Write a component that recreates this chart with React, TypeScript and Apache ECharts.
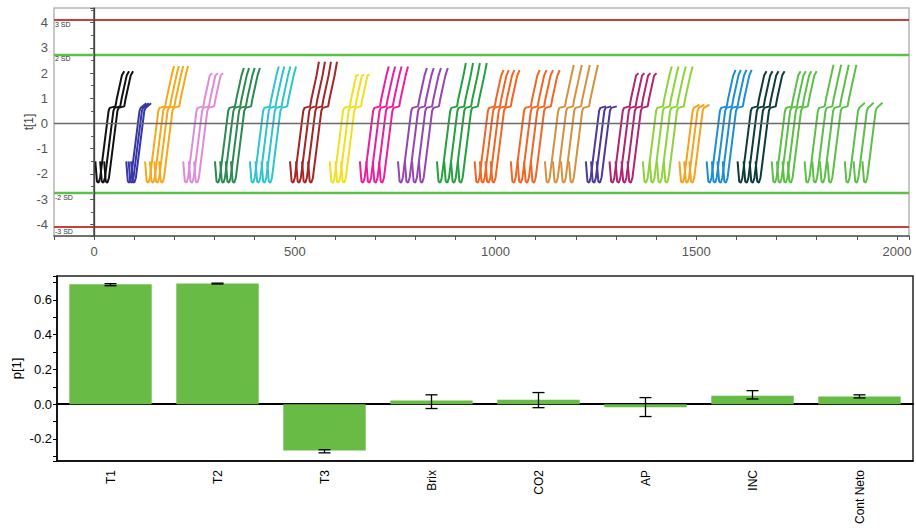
import React, { useEffect, useRef } from 'react';
import * as echarts from 'echarts';

// ---------- Top chart: batch trajectories of t[1] ----------
// Colour of each batch (left to right)
const batchColors = [
  '#111111', '#3636a6', '#f4a81d', '#e08bd6', '#2a8a52', '#2fc3cd', '#a42626', '#efe020',
  '#ec1f9b', '#9446b4', '#25a03e', '#f26522', '#f26522', '#d4913f', '#4a3a9e', '#b0256f',
  '#8dd33b', '#f5a221', '#1f8ed0', '#0f3a3a', '#5cbf47', '#5cbf47', '#5cbf47',
];
// Start (observation number) of each replicate trace in every batch
const batchTraceStarts = [
  [3, 15, 25], [80, 86, 92], [127, 139, 150, 162], [222, 236, 249],
  [301, 314, 328, 341], [388, 402, 417, 431], [488, 503, 518, 533], [587, 601, 615],
  [662, 678, 694, 710], [757, 774, 792, 809], [854, 872, 889, 906], [948, 961, 975, 988],
  [1038, 1055, 1071, 1088], [1123, 1143, 1163, 1183], [1225, 1238, 1252], [1284, 1299, 1314, 1329],
  [1367, 1384, 1402, 1419], [1458, 1470, 1483], [1526, 1539, 1553, 1566], [1603, 1618, 1633, 1648],
  [1688, 1701, 1715, 1728], [1770, 1789, 1808, 1827], [1870, 1892, 1914],
];
// Highest t[1] reached by each batch
const batchHigh = [
  2.07, 0.8, 2.28, 2.0, 2.2, 2.26, 2.45, 1.94, 2.26, 2.2, 2.4, 2.12,
  2.12, 2.32, 0.68, 2.0, 2.26, 0.75, 2.13, 2.07, 2.07, 2.33, 0.82,
];
const fullShapeDx = [0, 4, 8, 12, 33, 36, 50, 53, 66, 72];
const fullShapeY = [-1.5, -2.3, -2.35, -2.15, 0.5, 0.62, 0.68, 0.95, 1.9, null];
const shortShapeDx = [0, 4, 8, 12, 33, 36, 50];
const shortShapeY = [-1.5, -2.3, -2.35, -2.15, 0.5, 0.62, null];

// Control limits
const limit3SD = 4.11;
const limit2SD = 2.74;

// ---------- Bottom chart: loadings p[1] ----------
const categories = ['T1', 'T2', 'T3', 'Brix', 'CO2', 'AP', 'INC', 'Cont Neto'];
const loadings = [0.69, 0.695, -0.267, 0.021, 0.026, -0.018, 0.048, 0.044];
const errLow = [0.682, 0.692, -0.28, -0.025, -0.02, -0.071, 0.03, 0.036];
const errHigh = [0.694, 0.697, -0.262, 0.054, 0.067, 0.038, 0.078, 0.054];

const FONT = 'Liberation Sans, Arial, sans-serif';

function buildOption() {
  const series: any[] = [];
  batchTraceStarts.forEach((starts, b) => {
    const high = batchHigh[b];
    const short = high < 1;
    const dxs = short ? shortShapeDx : fullShapeDx;
    const ys = short ? shortShapeY : fullShapeY;
    starts.forEach((s) => {
      series.push({
        type: 'line',
        xAxisIndex: 0,
        yAxisIndex: 0,
        showSymbol: false,
        silent: true,
        color: batchColors[b],
        lineStyle: { width: 2, color: batchColors[b] },
        data: dxs.map((dx, i) => [s + dx, ys[i] === null ? high : ys[i]]),
        z: 3,
      });
    });
  });

  const sdLabel = (txt: string) => ({
    show: true,
    position: 'insideStartBottom',
    formatter: txt,
    fontSize: 7,
    color: '#333',
    fontFamily: FONT,
    distance: 1,
  });

  series.push({
    type: 'line',
    xAxisIndex: 0,
    yAxisIndex: 0,
    data: [],
    silent: true,
    markLine: {
      symbol: 'none',
      silent: true,
      animation: false,
      data: [
        { yAxis: limit3SD, lineStyle: { color: '#c8403a', width: 1.8, type: 'solid' }, label: sdLabel('3 SD') },
        { yAxis: limit2SD, lineStyle: { color: '#5cc04a', width: 2.4, type: 'solid' }, label: sdLabel('2 SD') },
        { yAxis: -limit2SD, lineStyle: { color: '#5cc04a', width: 2.4, type: 'solid' }, label: sdLabel('-2 SD') },
        { yAxis: -limit3SD, lineStyle: { color: '#c8403a', width: 1.8, type: 'solid' }, label: sdLabel('-3 SD') },
        { yAxis: 0, lineStyle: { color: '#6a6a6a', width: 1.3, type: 'solid' }, label: { show: false } },
        { xAxis: 0, lineStyle: { color: '#444', width: 1.3, type: 'solid' }, label: { show: false } },
      ],
    },
    z: 2,
  });

  series.push({
    type: 'bar',
    xAxisIndex: 1,
    yAxisIndex: 1,
    data: loadings,
    barWidth: '77%',
    itemStyle: { color: '#68bc46' },
    silent: true,
    z: 2,
  });

  series.push({
    type: 'custom',
    xAxisIndex: 1,
    yAxisIndex: 1,
    silent: true,
    z: 4,
    data: categories.map((_, i) => [i, errLow[i], errHigh[i]]),
    encode: { x: 0, y: [1, 2] },
    renderItem: (params: any, api: any) => {
      const idx = api.value(0);
      const p1 = api.coord([idx, api.value(1)]);
      const p2 = api.coord([idx, api.value(2)]);
      const hw = 6;
      const st = { stroke: '#000', lineWidth: 1.3 };
      return {
        type: 'group',
        children: [
          { type: 'line', shape: { x1: p1[0], y1: p1[1], x2: p2[0], y2: p2[1] }, style: st },
          { type: 'line', shape: { x1: p1[0] - hw, y1: p1[1], x2: p1[0] + hw, y2: p1[1] }, style: st },
          { type: 'line', shape: { x1: p2[0] - hw, y1: p2[1], x2: p2[0] + hw, y2: p2[1] }, style: st },
        ],
      };
    },
  });

  return {
    animation: false,
    textStyle: { fontFamily: FONT },
    grid: [
      { left: 54, top: 8, width: 855, height: 228, show: true, borderColor: '#b5b5b5', borderWidth: 1.5, backgroundColor: 'transparent' },
      { left: 57, top: 276, width: 856, height: 185, show: true, borderColor: '#222', borderWidth: 1.5, backgroundColor: 'transparent' },
    ],
    xAxis: [
      {
        type: 'value',
        gridIndex: 0,
        min: -100,
        max: 2030,
        interval: 100,
        axisLine: { show: true, onZero: false, lineStyle: { color: '#555', width: 1.5 } },
        axisTick: { show: true, length: 4, lineStyle: { color: '#555' } },
        axisLabel: {
          color: '#555',
          fontSize: 13,
          margin: 9,
          fontFamily: FONT,
          formatter: (v: number) => (v >= 0 && v % 500 === 0 ? String(v) : ''),
        },
        splitLine: { show: false },
      },
      {
        type: 'category',
        gridIndex: 1,
        data: categories,
        position: 'bottom',
        axisLine: { show: true, onZero: false, lineStyle: { color: '#000', width: 1.5 } },
        axisTick: { show: false },
        axisLabel: { rotate: 90, fontSize: 12, color: '#000', margin: 9, fontFamily: FONT },
        splitLine: { show: false },
      },
      {
        type: 'category',
        gridIndex: 1,
        data: categories,
        position: 'top',
        axisLine: { show: true, onZero: true, lineStyle: { color: '#000', width: 2 } },
        axisTick: { show: false },
        axisLabel: { show: false },
        splitLine: { show: false },
        z: 0,
      },
    ],
    yAxis: [
      {
        type: 'value',
        gridIndex: 0,
        min: -4.46,
        max: 4.58,
        splitNumber: 9,
        name: 't[1]',
        nameLocation: 'middle',
        nameGap: 19,
        nameMoveOverlap: false,
        nameRotate: 90,
        nameTextStyle: { fontSize: 12, color: '#444', fontFamily: FONT },
        axisLine: { show: true, lineStyle: { color: '#555', width: 1.5 } },
        axisTick: { show: true, length: 4, lineStyle: { color: '#555' } },
        minorTick: { show: true, splitNumber: 2, length: 3, lineStyle: { color: '#555' } },
        axisLabel: {
          color: '#555',
          fontSize: 13,
          margin: 6,
          fontFamily: FONT,
          formatter: (v: number) => (Math.abs(v - Math.round(v)) < 1e-6 ? String(Math.round(v)) : ''),
        },
        splitLine: { show: false },
      },
      {
        type: 'value',
        gridIndex: 1,
        min: -0.327,
        max: 0.738,
        splitNumber: 5,
        name: 'p[1]',
        nameLocation: 'middle',
        nameGap: 34,
        nameMoveOverlap: false,
        nameRotate: 90,
        nameTextStyle: { fontSize: 13, color: '#000', fontFamily: FONT },
        axisLine: { show: true, lineStyle: { color: '#000', width: 1.5 } },
        axisTick: { show: true, length: 4, lineStyle: { color: '#000' } },
        minorTick: { show: true, splitNumber: 2, length: 4, lineStyle: { color: '#000' } },
        axisLabel: {
          color: '#000',
          fontSize: 13,
          margin: 5,
          fontFamily: FONT,
          formatter: (v: number) => {
            const t = Math.round(v * 10);
            if (Math.abs(v * 10 - t) > 1e-6 || t % 2 !== 0) return '';
            return (t / 10).toFixed(1);
          },
        },
        splitLine: { show: false },
      },
    ],
    series,
  };
}

export default function App() {
  const ref = useRef<HTMLDivElement>(null);
  useEffect(() => {
    if (!ref.current) return;
    const chart = echarts.init(ref.current, null, { renderer: 'svg' });
    chart.setOption(buildOption() as any);
    return () => chart.dispose();
  }, []);
  return (
    <div
      ref={ref}
      style={{ position: 'absolute', left: 0, top: 0, width: 916, height: 528, background: '#fff' }}
    />
  );
}
